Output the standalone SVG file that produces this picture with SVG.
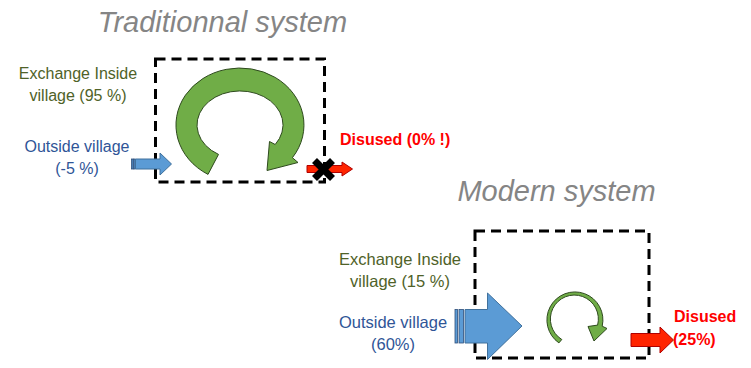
<svg xmlns="http://www.w3.org/2000/svg" width="751" height="368" viewBox="0 0 751 368">
<style>
  .title { font-family: "Liberation Sans", Arial, sans-serif; font-style: italic; font-size: 29px; fill: #858585; text-anchor: middle; }
  .lbl { font-family: "Liberation Sans", Arial, sans-serif; font-size: 16px; text-anchor: middle; }
  .green { fill: #4f6228; }
  .blue { fill: #2f5597; }
  .red { font-family: "Liberation Sans", Arial, sans-serif; font-weight: bold; font-size: 16px; fill: #ff0000; }
  .box { fill: none; stroke: #000; stroke-width: 3; stroke-dasharray: 10 6; }
  .cyc { fill: #70ad47; stroke: #2e4a1e; stroke-width: 1; }
  .barrow { fill: #5b9bd5; stroke: #41719c; stroke-width: 1; }
  .stripe { fill: #5b9bd5; stroke: #2f4f7a; stroke-width: 0.8; }
  .rarrow { fill: #ff2400; stroke: #b00000; stroke-width: 1; }
</style>

<!-- Traditional system -->
<g id="title-traditional"><text class="title" x="222.5" y="32">Traditionnal system</text></g>
<g id="box-traditional"><rect class="box" x="155.5" y="59" width="169" height="123"/></g>
<g id="cycle-traditional"><path class="cyc" d="M 208 174.4 A 64 57 0 1 1 292.4 157.7 L 298 162.5 L 267 170.5 L 269.5 141.5 L 275.2 144.5 A 43 34 0 1 0 218.5 154.4 Z"/></g>
<g id="label-exchange-traditional"><text class="lbl green" x="78" y="79">Exchange Inside</text><text class="lbl green" x="78" y="101">village (95 %)</text></g>
<g id="label-outside-traditional"><text class="lbl blue" x="77" y="152">Outside village</text><text class="lbl blue" x="77" y="174">(-5 %)</text></g>
<g id="label-disused-traditional"><text class="red" x="340" y="145">Disused (0% !)</text></g>

<!-- Modern system -->
<g id="title-modern"><text class="title" x="556.5" y="201">Modern system</text></g>
<g id="box-modern"><rect class="box" x="475" y="231" width="174" height="127"/></g>
<g id="cycle-modern"><path class="cyc" d="M 558.9 342.9 A 28 28 0 1 1 602.2 326.2 L 607 328.5 L 594 341 L 588 326.5 L 597.6 325.1 A 24 24 0 1 0 561.8 339.5 Z"/></g>
<g id="label-exchange-modern"><text class="lbl green" x="400" y="265" style="font-size:16.5px">Exchange Inside</text><text class="lbl green" x="400" y="287" style="font-size:16.5px">village (15 %)</text></g>
<g id="label-outside-modern"><text class="lbl blue" x="393" y="328" style="font-size:16.5px">Outside village</text><text class="lbl blue" x="393" y="350" style="font-size:16.5px">(60%)</text></g>
<g id="label-disused-modern"><text class="red" x="674" y="322">Disused</text><text class="red" x="673" y="345">(25%)</text></g>

<!-- Connectors (block arrows) -->
<g id="connectors">
  <g id="arrow-in-traditional">
    <rect class="stripe" x="131.5" y="159" width="1.5" height="10"/>
    <rect class="stripe" x="133.5" y="159" width="1.5" height="10"/>
    <polygon class="barrow" points="135.5,159 160,159 160,153 171.5,164 160,175 160,169 135.5,169"/>
  </g>
  <g id="arrow-out-traditional">
    <polygon class="rarrow" points="307,165.5 342,165.5 342,162 352.5,169 342,176 342,172.5 307,172.5"/>
    <path d="M 314.5 160.5 L 332.5 178.5 M 332.5 160.5 L 314.5 178.5" stroke="#000" stroke-width="7" fill="none"/>
  </g>
  <g id="arrow-in-modern">
    <rect class="stripe" x="455" y="309.5" width="2.5" height="33.5"/>
    <rect class="stripe" x="459" y="309.5" width="4.5" height="33.5"/>
    <polygon class="barrow" points="465,309.5 487.5,309.5 487.5,293 522,326 487.5,359.5 487.5,343 465,343"/>
  </g>
  <g id="arrow-out-modern">
    <polygon class="rarrow" points="631,333.5 660,333.5 660,327 673.5,340 660,353 660,346.5 631,346.5"/>
  </g>
</g>
</svg>
